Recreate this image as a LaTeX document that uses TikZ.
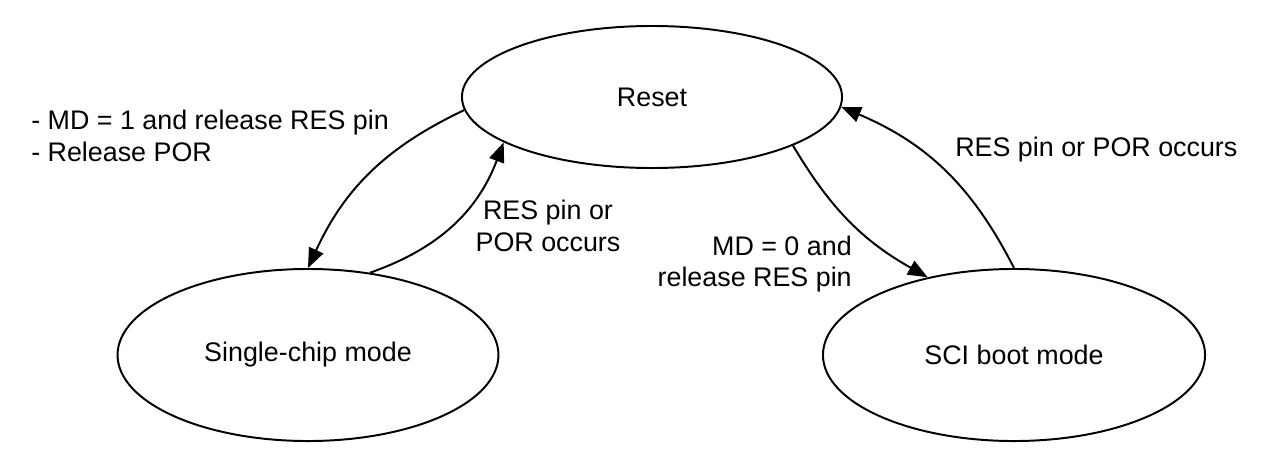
\documentclass[tikz,border=0pt]{standalone}
\usepackage{fontspec}
\setmainfont{Liberation Sans}
\usetikzlibrary{shapes.geometric,arrows.meta}

\begin{document}
\begin{tikzpicture}[x=0.025cm, y=0.025cm, >={Triangle[length=14pt,width=11pt]},
    font=\fontsize{19.1}{22.2}\selectfont,
    state/.style={draw, ellipse, line width=1.4pt, inner sep=0pt},
    trans/.style={->, line width=1.4pt},
    lbl/.style={inner sep=0pt}]
    % fix the page size
    \useasboundingbox (0,0) rectangle (1268,470);

    % draw states
    \node[state, minimum width=9.5cm, minimum height=3.55cm] (reset) at (652,373) {Reset};
    \node[state, minimum width=9.52cm, minimum height=4.3cm] (single) at (308,115) {Single-chip mode};
    \node[state, minimum width=9.55cm, minimum height=4.3cm] (sci) at (1014,115) {SCI boot mode};

    % draw transitions
    \draw[trans] (reset.184) to[bend right=20] (single.90);
    \draw[trans] (single.53) to[bend right=25] (reset.197);
    \draw[trans] (reset.341) to[bend right=15] (sci.138);
    \draw[trans] (sci.90) to[bend right=20] (reset.357);

    % draw labels
    \node[lbl, anchor=west, align=left] (tosingle) at (31,334) {- MD = 1 and release RES pin\\- Release POR};
    \node[lbl, align=center] (fromsingle) at (548,244) {RES pin or\\POR occurs};
    \node[lbl, anchor=east, align=right] (tosci) at (852,206) {MD = 0 and\\release RES pin};
    \node[lbl, anchor=west] (fromsci) at (955,320) {RES pin or POR occurs};
  \end{tikzpicture}
\end{document}
